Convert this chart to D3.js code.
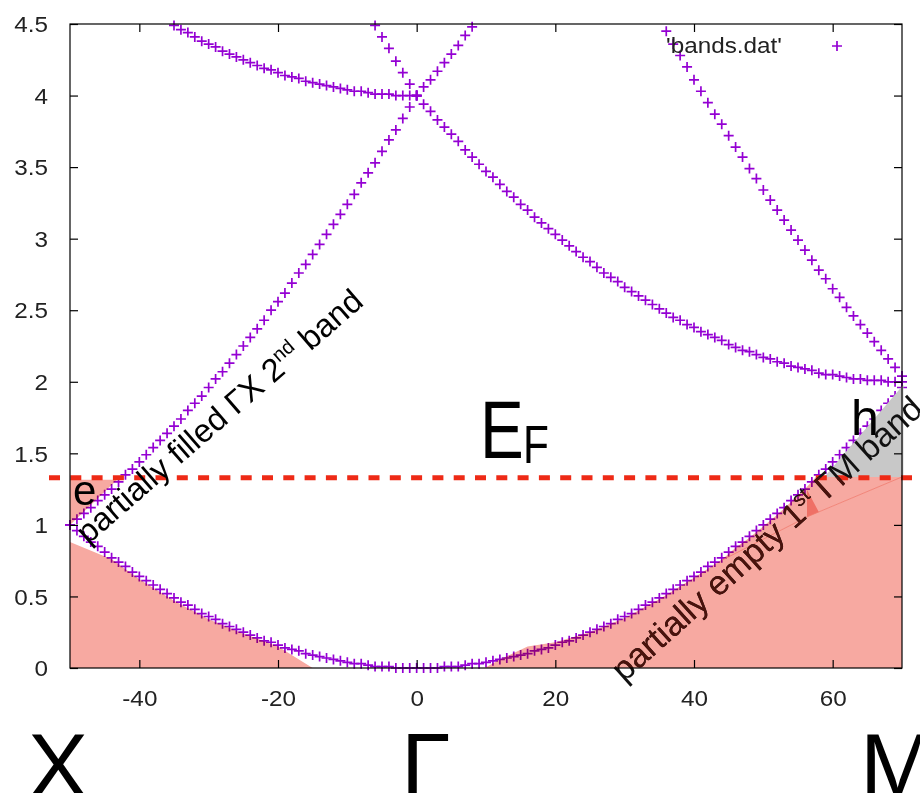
<!DOCTYPE html>
<html><head><meta charset="utf-8">
<script src="https://cdn.jsdelivr.net/npm/d3@7"></script>
<style>body{margin:0;background:#fff}svg{display:block}</style>
</head><body>
<svg id="chart" width="920" height="793"></svg>
<script>
// ---------------- data ----------------
const xTicks = [-40, -20, 0, 20, 40, 60];
const yTicks = [0, 0.5, 1, 1.5, 2, 2.5, 3, 3.5, 4, 4.5];
const xTickLabels = ["-40", "-20", "0", "20", "40", "60"];
const yTickLabels = ["0", "0.5", "1", "1.5", "2", "2.5", "3", "3.5", "4", "4.5"];
const legendLabel = "'bands.dat'";
const pointLabels = ["X", "Γ", "M"];
const fermiLevel = 1.33;

// lowest band, k = -50 ... 70 (step 1)
const band1Start = -50;
const band1 = [1.00,0.96,0.92,0.88,0.85,0.81,0.77,0.74,0.71,0.67,
  0.64,0.61,0.58,0.55,0.52,0.49,0.46,0.44,0.41,0.38,
  0.36,0.34,0.31,0.29,0.27,0.25,0.23,0.21,0.19,0.18,
  0.16,0.14,0.13,0.12,0.10,0.09,0.08,0.07,0.06,0.05,
  0.04,0.03,0.03,0.02,0.01,0.01,0.01,0.00,0.00,0.00,
  0.00,0.00,0.00,0.00,0.01,0.01,0.01,0.02,0.03,0.03,
  0.04,0.05,0.06,0.07,0.08,0.09,0.10,0.12,0.13,0.14,
  0.16,0.18,0.19,0.21,0.23,0.25,0.27,0.29,0.31,0.34,
  0.36,0.38,0.41,0.44,0.46,0.49,0.52,0.55,0.58,0.61,
  0.64,0.67,0.71,0.74,0.77,0.81,0.85,0.88,0.92,0.96,
  1.00,1.04,1.08,1.12,1.17,1.21,1.25,1.30,1.35,1.39,
  1.44,1.49,1.54,1.59,1.64,1.69,1.74,1.80,1.85,1.90,1.96];
// second band along Gamma-X, k = -50 ... 0
const band2Start = -50;
const band2 = [1.00,1.04,1.08,1.12,1.17,1.21,1.25,1.30,1.35,1.39,
  1.44,1.49,1.54,1.59,1.64,1.69,1.74,1.80,1.85,1.90,
  1.96,2.02,2.07,2.13,2.19,2.25,2.31,2.37,2.43,2.50,
  2.56,2.62,2.69,2.76,2.82,2.89,2.96,3.03,3.10,3.17,
  3.24,3.31,3.39,3.46,3.53,3.61,3.69,3.76,3.84,3.92,4.00];
// steep band falling into Gamma from the left, k = -6 ... 0
const band3Start = -6;
const band3 = [4.49,4.41,4.33,4.24,4.16,4.08,4.00];
// flat band near 4 along Gamma-X, k = -35 ... 0
const band4Start = -35;
const band4 = [4.49,4.46,4.44,4.41,4.38,4.36,4.34,4.31,4.29,4.27,
  4.25,4.23,4.21,4.19,4.18,4.16,4.14,4.13,4.12,4.10,
  4.09,4.08,4.07,4.06,4.05,4.04,4.03,4.03,4.02,4.01,
  4.01,4.01,4.00,4.00,4.00,4.00];
// band falling from 4 to 2 along Gamma-M, k = 0 ... 70
const band5Start = 0;
const band5 = [4.00,3.94,3.89,3.83,3.78,3.73,3.68,3.62,3.57,3.52,
  3.47,3.43,3.38,3.33,3.29,3.24,3.20,3.15,3.11,3.07,
  3.03,2.99,2.95,2.91,2.87,2.84,2.80,2.76,2.73,2.70,
  2.66,2.63,2.60,2.57,2.54,2.51,2.48,2.45,2.43,2.40,
  2.38,2.35,2.33,2.31,2.29,2.26,2.24,2.22,2.21,2.19,
  2.17,2.16,2.14,2.13,2.11,2.10,2.09,2.08,2.06,2.05,
  2.05,2.04,2.03,2.02,2.02,2.01,2.01,2.01,2.00,2.00,2.00];
// band rising from 4 along Gamma-M, k = 0 ... 8
const band6Start = 0;
const band6 = [4.00,4.06,4.11,4.17,4.23,4.29,4.35,4.42,4.48];
// steep band falling towards M, k = 36 ... 70
const band7Start = 36;
const band7 = [4.45,4.36,4.28,4.20,4.11,4.03,3.95,3.87,3.80,3.72,
  3.64,3.57,3.49,3.42,3.34,3.27,3.20,3.13,3.06,2.99,
  2.92,2.85,2.78,2.72,2.65,2.59,2.52,2.46,2.40,2.34,
  2.28,2.22,2.16,2.10,2.04];

// shaded regions (data coordinates)
const fillLeftLow = [[-50,0],[-50,0.88],[-44,0.76],[-40,0.62],[-35,0.47],[-30,0.34],[-25,0.24],[-20,0.15],[-15,0]];
const fillLeftPocket = [[-50,1.0],[-50,1.315],[-43.2,1.315]];
const fillRightA = [[9.8,0],[12,0.06],[16,0.15],[20,0.18],[25,0.25],[30,0.35],[35,0.48],[40,0.63],[44.1,0.76],
  [56.3,1.056],[56.3,1.245],[58,1.09],[70,1.335],[70,0]];
const fillRightB = [[44.1,0.76],[46,0.84],[48,0.91],[50,0.99],[52,1.07],[54,1.16],[56,1.25],[57.6,1.335],[70,1.335],[56.3,1.056]];
const seamLine = [[44.1,0.755],[56.3,1.056],[70,1.335]];
const fillHole = [[58.8,1.335],[70.2,1.335],[70.2,1.98]];

// ---------------- drawing ----------------
const svg = d3.select("#chart");
const m = {left:70, right:902, top:24, bottom:668};
const x = d3.scaleLinear().domain([-50,70]).range([m.left, m.right]);
const y = d3.scaleLinear().domain([0,4.5]).range([m.bottom, m.top]);
const FONT = "'Liberation Sans', Arial, sans-serif";
const SALMON = "#f7a9a1";
const PURPLE = "#9400d3";

function toPts(start, vals){ return vals.map((v,i)=>[start+i, v]); }
const bands = [
  toPts(band1Start, band1), toPts(band2Start, band2), toPts(band3Start, band3),
  toPts(band4Start, band4), toPts(band5Start, band5), toPts(band6Start, band6),
  toPts(band7Start, band7)
];
const allPts = bands.flat().filter(p => p[0]>=-50 && p[0]<=70 && p[1]>=0 && p[1]<=4.5);

const line = d3.line().x(d=>x(d[0])).y(d=>y(d[1]));

// markers
const cross = "M-5,0H5M0,-5V5";
svg.append("g").selectAll("path").data(allPts).join("path")
  .attr("d", cross)
  .attr("transform", d=>`translate(${x(d[0])},${y(d[1])})`)
  .attr("stroke", PURPLE).attr("stroke-width", 1.7).attr("fill","none");

function drawText2(g, color){
  const t = g.append("text")
    .attr("transform", "translate(624,683) rotate(-42)")
    .attr("font-family", FONT).attr("font-size", 34).attr("fill", color);
  t.append("tspan").text("partially empty 1");
  t.append("tspan").attr("dy", -13).attr("font-size", 21).text("st");
  t.append("tspan").attr("dy", 13).text(" ΓM band");
}

// fills
const fills = svg.append("g");
[fillLeftLow, fillLeftPocket, fillRightA, fillRightB].forEach(poly=>{
  fills.append("path").attr("d", line(poly)+"Z").attr("fill", SALMON)
    .style("mix-blend-mode","multiply");
});
fills.append("path").attr("d", line(seamLine)).attr("fill","none")
  .attr("stroke","#f07a6c").attr("stroke-width",0.8);
fills.append("path").attr("d", line(fillHole)+"Z").attr("fill","#c8c8c8");

const defs = svg.append("defs");
const cp = defs.append("clipPath").attr("id","salmonClip");
[fillRightA, fillRightB].forEach(poly=>cp.append("path").attr("d", line(poly)+"Z"));

// Fermi level
svg.append("line").attr("x1",49).attr("x2",920).attr("y1",y(fermiLevel)).attr("y2",y(fermiLevel))
  .attr("stroke","#ee2a16").attr("stroke-width",5).attr("stroke-dasharray","11,10.3");

drawText2(svg.append("g"), "#111");
drawText2(svg.append("g").attr("clip-path","url(#salmonClip)"), "#4a120c");

// border
svg.append("rect").attr("x",m.left).attr("y",m.top).attr("width",m.right-m.left).attr("height",m.bottom-m.top)
  .attr("fill","none").attr("stroke","#000").attr("stroke-width",1.2);

// axes
const SX = 1.13;
const gy = svg.append("g").attr("transform",`translate(${m.left},0)`)
  .call(d3.axisLeft(y).tickValues(yTicks).tickSize(-8).tickPadding(22).tickFormat((d,i)=>yTickLabels[i]));
gy.select(".domain").remove();
gy.selectAll("text").attr("font-family",FONT).attr("font-size",21.5).attr("fill","#222")
  .attr("transform",`scale(${SX},1)`).attr("x",-22/SX).attr("dy","0.36em");
const gx = svg.append("g").attr("transform",`translate(0,${m.bottom})`)
  .call(d3.axisBottom(x).tickValues(xTicks).tickSize(-8).tickPadding(23).tickFormat((d,i)=>xTickLabels[i]));
gx.select(".domain").remove();
gx.selectAll("text").attr("font-family",FONT).attr("font-size",21.5).attr("fill","#222")
  .attr("transform",`scale(${SX},1)`);
const gr = svg.append("g").attr("transform",`translate(${m.right},0)`)
  .call(d3.axisRight(y).tickValues(yTicks).tickSize(-8).tickFormat(""));
gr.select(".domain").remove();
const gt = svg.append("g").attr("transform",`translate(0,${m.top})`)
  .call(d3.axisTop(x).tickValues(xTicks).tickSize(-8).tickFormat(""));
gt.select(".domain").remove();
svg.selectAll(".tick line").attr("stroke","#000").attr("stroke-width",1.2);

// legend
svg.append("text").attr("transform",`translate(782,53) scale(${SX},1)`).attr("text-anchor","end")
  .attr("font-family",FONT).attr("font-size",21.5).attr("fill","#222").text(legendLabel);
svg.append("path").attr("d",cross).attr("transform","translate(837,46)")
  .attr("stroke",PURPLE).attr("stroke-width",1.7);

// rotated text 1
const t1 = svg.append("text").attr("transform","translate(88,545) rotate(-41)")
  .attr("font-family",FONT).attr("font-size",32.5).attr("fill","#000");
t1.append("tspan").text("partially filled ΓX 2");
t1.append("tspan").attr("dy",-12).attr("font-size",20).text("nd");
t1.append("tspan").attr("dy",12).text(" band");

// E_F, e, h
svg.append("text").attr("transform","translate(480,458) scale(0.8,1)")
  .attr("font-family",FONT).attr("font-size",82).attr("fill","#000").text("E");
svg.append("text").attr("transform","translate(523,463) scale(0.8,1)")
  .attr("font-family",FONT).attr("font-size",53).attr("fill","#000").text("F");
svg.append("text").attr("x",73).attr("y",505).attr("font-family",FONT).attr("font-size",42).attr("fill","#000").text("e");
svg.append("text").attr("x",851).attr("y",435).attr("font-family",FONT).attr("font-size",50).attr("fill","#000").text("h");

// high-symmetry point labels
const labelX = [28, 401, 860];
svg.selectAll(".kpt").data(pointLabels).join("text").attr("class","kpt")
  .attr("x",(d,i)=>labelX[i]).attr("y",797)
  .attr("font-family",FONT).attr("font-size",90).attr("fill","#000").text(d=>d);
</script>
</body></html>
